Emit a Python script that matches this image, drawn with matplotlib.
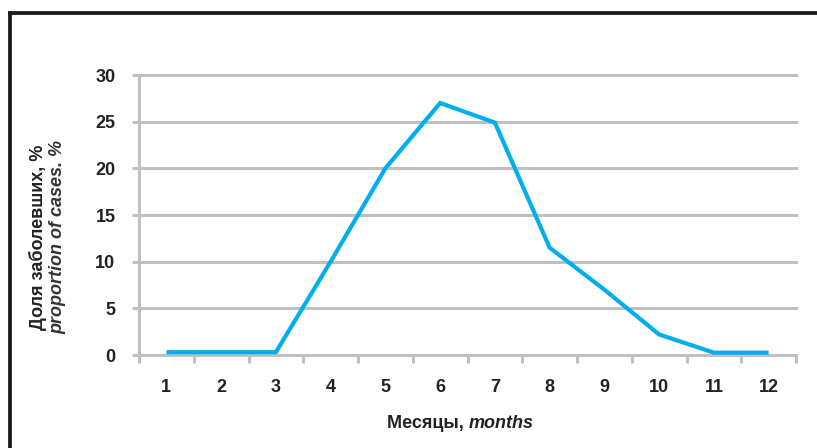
import matplotlib
matplotlib.use('Agg')
import matplotlib.pyplot as plt
from matplotlib.lines import Line2D
from matplotlib.offsetbox import TextArea, HPacker, AnnotationBbox

# data
months = [1, 2, 3, 4, 5, 6, 7, 8, 9, 10, 11, 12]
cases_pct = [0.3, 0.3, 0.3, 10.0, 20.0, 27.0, 24.9, 11.5, 7.0, 2.2, 0.25, 0.25]
y_ticks = [0, 5, 10, 15, 20, 25, 30]

plt.rcParams['font.family'] = ['Liberation Sans', 'DejaVu Sans']

GRID = '#c0c0c4'
LINE = '#00aeef'
TXT = '#222222'
FS = 13

fig = plt.figure(figsize=(8.17, 4.48), dpi=100)
ax = fig.add_axes([139 / 817, 1 - 355 / 448, (796 - 139) / 817, 280 / 448])

ax.plot(months, cases_pct, color=LINE, lw=3.0, solid_joinstyle='miter',
        solid_capstyle='butt', zorder=3)

ax.set_xlim(0.5, 12.5)
ax.set_ylim(0, 30)

# horizontal grid lines (including the one at the top)
for y in y_ticks[1:]:
    ax.axhline(y, color=GRID, lw=2.2, clip_on=False, zorder=1)

for side in ['top', 'right']:
    ax.spines[side].set_visible(False)
for side in ['left', 'bottom']:
    ax.spines[side].set_color(GRID)
    ax.spines[side].set_linewidth(2.2)
ax.spines['bottom'].set_zorder(2)

ax.set_yticks(y_ticks)
ax.set_yticklabels([str(v) for v in y_ticks])
ax.tick_params(axis='y', length=5, width=2.2, color=GRID, pad=12,
               labelsize=FS)

ax.set_xticks(months)
ax.set_xticklabels([str(m) for m in months])
ax.set_xticks([m - 0.5 for m in months] + [12.5], minor=True)
ax.tick_params(axis='x', which='major', length=0, pad=17, labelsize=FS)
ax.tick_params(axis='x', which='minor', length=6, width=2.2, color=GRID)
for lab in ax.get_xticklabels() + ax.get_yticklabels():
    lab.set_fontweight('bold')
    lab.set_color(TXT)

# y label, two lines
fig.text(38 / 817, 1 - 237 / 448, 'Доля заболевших, %', rotation=90,
         ha='center', va='center', fontsize=FS, fontweight='bold', color=TXT)
fig.text(58 / 817, 1 - 237 / 448, 'proportion of cases. %', rotation=90,
         ha='center', va='center', fontsize=FS, fontweight='bold',
         fontstyle='italic', color='#333333')

# x label with mixed styles
xl = HPacker(children=[
    TextArea('Месяцы, ', textprops=dict(fontsize=FS, fontweight='bold', color=TXT)),
    TextArea('months', textprops=dict(fontsize=FS, fontweight='bold',
                                      fontstyle='italic', color=TXT)),
], align='baseline', pad=0, sep=0)
ab = AnnotationBbox(xl, (460 / 817, 1 - 423 / 448), xycoords='figure fraction',
                    frameon=False, box_alignment=(0.5, 0.5))
fig.add_artist(ab)

# frame of the original figure (left and top edges)
fig.add_artist(Line2D([10 / 817, 10 / 817], [0, 1 - 13 / 448], transform=fig.transFigure,
                      color='#1a1a1a', lw=2.7, solid_capstyle='projecting'))
fig.add_artist(Line2D([10 / 817, 1], [1 - 13 / 448, 1 - 13 / 448], transform=fig.transFigure,
                      color='#1a1a1a', lw=2.7, solid_capstyle='projecting'))

fig.savefig('out.png', dpi=100)
